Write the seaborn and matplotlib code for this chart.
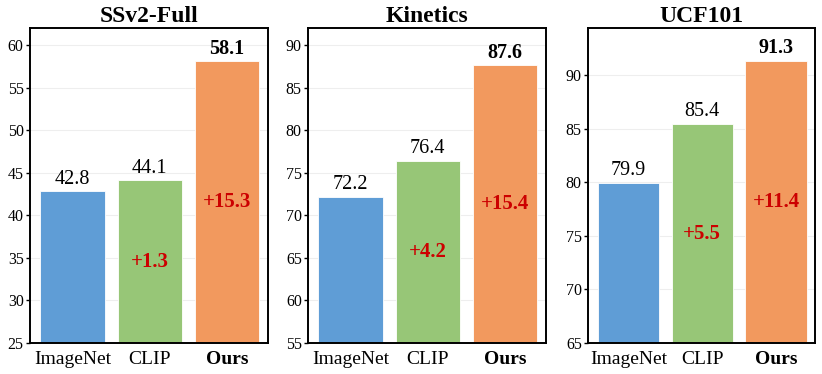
import numpy as np
import pandas as pd
import matplotlib
matplotlib.use("Agg")
import matplotlib.pyplot as plt
import seaborn as sns

# dados
datasets = ["SSv2-Full", "Kinetics", "UCF101"]
methods = ["ImageNet", "CLIP", "Ours"]
ssv2 = [42.8, 44.1, 58.1]
kinetics = [72.2, 76.4, 87.6]
ucf101 = [79.9, 85.4, 91.3]
deltas_ssv2 = ["+1.3", "+15.3"]
deltas_kinetics = ["+4.2", "+15.4"]
deltas_ucf101 = ["+5.5", "+11.4"]
ylims = [(25, 62), (55, 92), (65, 94.4)]
yticks = [np.arange(25, 61, 5), np.arange(55, 91, 5), np.arange(65, 91, 5)]

cores = ["#5F9DD6", "#97C677", "#F2995E"]

sns.set_style("white")
plt.rcParams["font.family"] = ["Liberation Serif", "DejaVu Serif"]
plt.rcParams["text.color"] = "black"
plt.rcParams["xtick.color"] = "black"
plt.rcParams["ytick.color"] = "black"

fig = plt.figure(figsize=(8.22, 3.74), dpi=100)
axes_pos = [
    [30 / 822, 31 / 374, 238 / 822, 315 / 374],
    [308 / 822, 31 / 374, 238 / 822, 315 / 374],
    [588 / 822, 31 / 374, 227 / 822, 315 / 374],
]

valores = [ssv2, kinetics, ucf101]
deltas = [deltas_ssv2, deltas_kinetics, deltas_ucf101]

for i in range(3):
    ax = fig.add_axes(axes_pos[i])
    df = pd.DataFrame({"Método": methods, "Acc": valores[i]})
    sns.barplot(data=df, x="Método", y="Acc", hue="Método", palette=cores,
                saturation=1, width=0.83, edgecolor="#ffffff", linewidth=0.6,
                legend=False, ax=ax, zorder=2)
    ax.set_ylim(*ylims[i])
    ax.set_xlim(-0.55, 2.53)
    ax.set_yticks(yticks[i])
    ax.yaxis.grid(True, color="#eeeeee", linewidth=0.8, zorder=0)
    ax.set_axisbelow(True)
    ax.set_xlabel("")
    ax.set_ylabel("")
    ax.set_title(datasets[i], fontsize=17, fontweight="bold", pad=4)
    ax.tick_params(axis="y", labelsize=11.5, length=3, width=1, direction="out",
                   left=True, pad=1.5)
    ax.tick_params(axis="x", labelsize=14, length=0, pad=6)
    for lab in ax.get_xticklabels():
        if lab.get_text() == "Ours":
            lab.set_fontweight("bold")
    for s in ax.spines.values():
        s.set_color("black")
        s.set_linewidth(1.4)

    y0 = ylims[i][0]
    for j, v in enumerate(valores[i]):
        peso = "bold" if j == 2 else "normal"
        ax.text(j, v + 0.3, f"{v:.1f}", ha="center", va="bottom",
                fontsize=14.5, fontweight=peso)
    for j, d in enumerate(deltas[i]):
        k = j + 1
        ax.text(k, (y0 + valores[i][k]) / 2, d, ha="center", va="center",
                fontsize=15, fontweight="bold", color="#CC0000")

plt.savefig("out.png", dpi=100)
